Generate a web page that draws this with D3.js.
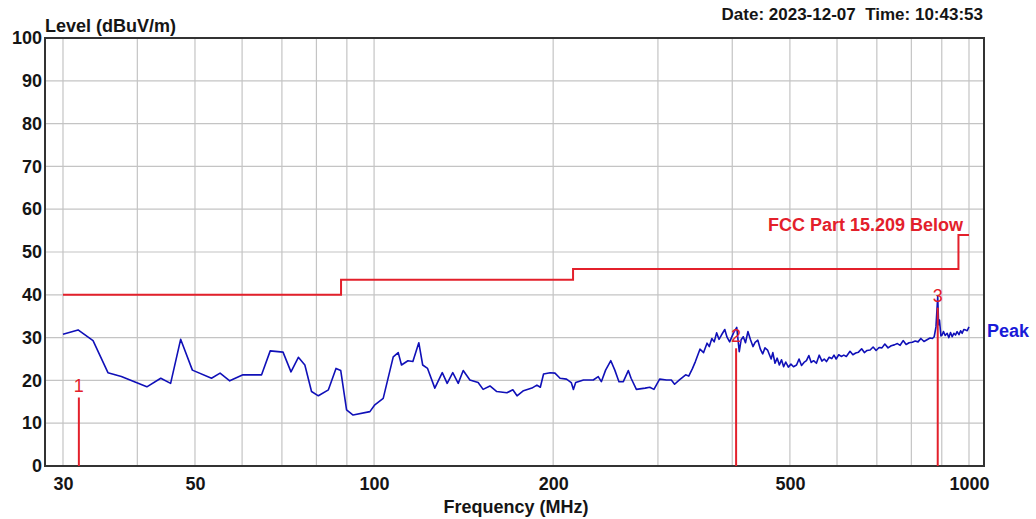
<!DOCTYPE html>
<html>
<head>
<meta charset="utf-8">
<script src="https://cdn.jsdelivr.net/npm/d3@7"></script>
<style>
  html, body { margin: 0; padding: 0; background: #fff; }
  svg { display: block; }
  text { font-family: Arial, "Liberation Sans", sans-serif; }
</style>
</head>
<body>
<svg id="chart" width="1036" height="519"></svg>
<script>
// ---------- data ----------
const yTicks = [0, 10, 20, 30, 40, 50, 60, 70, 80, 90, 100];
const xTickLabels = [30, 50, 100, 200, 500, 1000];
const xGridValues = [30, 40, 50, 60, 70, 80, 90, 100, 200, 300, 400, 500, 600, 700, 800, 900, 1000];

const limitFreq  = [30, 88, 88, 216, 216, 960, 960, 1000];
const limitLevel = [40, 40, 43.5, 43.5, 46, 46, 54, 54];
const limitName = "FCC Part 15.209 Below";

const markerFreq  = [31.9, 406, 886];
const markerLevel = [16, 27.5, 37];
const markerLabel = ["1", "2", "3"];

const peakFreq = [
  30.0, 31.8, 33.7, 35.7, 37.6, 41.5, 43.8, 45.5, 47.3, 49.5,
  53.3, 55.1, 57.2, 60.2, 64.7, 66.9, 70.3, 72.5, 74.6, 76.5,
  78.5, 80.6, 83.8, 86.3, 87.9, 89.9, 92.2, 98.4, 100.3, 103.6,
  107.7, 109.8, 111.2, 114.0, 116.2, 118.9, 120.7, 123.0, 126.5, 130.2,
  132.7, 135.6, 138.5, 141.2, 144.9, 149.6, 152.5, 156.6, 160.8, 167.2,
  171.1, 173.9, 178.3, 184.2, 187.8, 190.3, 192.7, 197.7, 201.4, 205.4,
  210.6, 214.5, 216.3, 218.2, 224.9, 233.6, 238.1, 241.0, 245.0, 250.0,
  253.9, 258.0, 262.4, 267.5, 270.4, 276.0, 285.5, 290.7, 295.4, 302.0,
  310.2, 316.0, 320.0, 326.0, 334.0, 338.0, 343.0, 346.8, 353.0, 358.0,
  362.8, 366.0, 369.6, 373.0, 376.5, 380.0, 383.6, 388.6, 392.0, 396.0,
  402.0, 407.0, 411.0, 414.0, 417.4, 421.0, 425.0, 429.0, 433.4, 437.0,
  441.6, 446.0, 450.0, 454.0, 458.6, 461.0, 465, 468, 472, 476, 480, 484,
  488, 492, 497, 502, 507, 513, 518, 523, 528, 533,
  538, 543, 548, 554, 560, 566, 571, 576, 582, 588,
  593, 598, 604, 610, 616, 622, 631, 638, 645, 652,
  660, 667, 674, 682, 690, 698, 706, 714, 722, 731,
  740, 749, 758, 766, 775, 784, 793, 803, 812, 821,
  830, 840, 850, 860, 868, 874, 880, 886, 889, 892,
  897, 901, 906, 912, 919, 925, 931, 937, 943, 949,
  955, 962, 968, 974, 980, 986, 993, 1000
];
const peakLevel = [
  30.8, 31.8, 29.3, 21.8, 20.9, 18.5, 20.5, 19.3, 29.6, 22.4,
  20.5, 21.7, 19.9, 21.3, 21.3, 26.9, 26.6, 22.0, 25.4, 23.6,
  17.4, 16.4, 17.8, 22.8, 22.3, 13.1, 11.9, 12.7, 14.3, 15.8,
  25.5, 26.5, 23.6, 24.6, 24.4, 28.8, 23.6, 22.8, 18.2, 21.8,
  19.3, 21.8, 19.3, 22.3, 20.1, 19.5, 17.9, 18.7, 17.4, 17.1,
  17.8, 16.4, 17.6, 18.2, 18.9, 18.4, 21.5, 21.8, 21.7, 20.5,
  20.3, 19.5, 17.9, 19.5, 20.1, 20.1, 20.9, 19.7, 22.4, 24.6,
  22.4, 19.7, 19.7, 22.3, 20.5, 17.9, 18.2, 18.4, 17.9, 20.3,
  20.1, 20.1, 19.1, 20.1, 21.3, 21.0, 22.8, 24.4, 27.3, 26.5,
  28.7, 27.9, 29.8, 29.0, 31.1, 29.6, 30.6, 31.9, 30.1, 29.0,
  31.1, 32.4, 26.7, 29.5, 30.2, 28.8, 31.4, 29.6, 27.9, 28.9,
  29.4, 27.3, 26.2, 27.6, 27.1, 26.3, 25.0, 26.5, 24.0, 25.2, 23.6, 24.8,
  23.2, 24.3, 23.1, 23.8, 23.2, 23.6, 25.0, 23.5, 24.2, 24.6,
  25.8, 24.2, 24.6, 24.0, 25.9, 24.5, 25.0, 24.4, 25.4, 25.1,
  25.9, 25.0, 26.0, 25.6, 25.9, 25.6, 26.8, 26.0, 26.4, 26.6,
  27.4, 26.5, 27.0, 27.1, 27.8, 27.0, 27.7, 27.6, 28.5, 27.6,
  28.1, 28.3, 28.6, 28.2, 29.3, 28.4, 28.8, 28.9, 29.2, 29.0,
  29.8, 29.1, 29.5, 29.9, 29.8, 30.2, 32.5, 39.6, 33.0, 34.1,
  30.4, 30.6, 31.4, 30.5, 31.0, 30.0, 31.2, 30.2, 31.0, 30.6,
  31.4, 30.7, 31.6, 31.0, 31.9, 31.8, 31.6, 32.5
];
const traceName = "Peak";

// ---------- layout ----------
const svg = d3.select("#chart");
const frame = { left: 45, top: 38, right: 984, bottom: 466 };

const x = d3.scaleLog().domain([30, 1000]).range([63, 969]);
const y = d3.scaleLinear().domain([0, 100]).range([frame.bottom, frame.top]);

const RED = "#e3202b";
const BLUE = "#1010b8";
const TXT = "#151515";

// grid
svg.append("g").selectAll("line").data(yTicks.filter(d => d > 0 && d < 100)).join("line")
  .attr("x1", frame.left).attr("x2", frame.right)
  .attr("y1", d => y(d)).attr("y2", d => y(d))
  .attr("stroke", "#c4c4c4").attr("stroke-width", 1.2);
svg.append("g").selectAll("line").data(xGridValues).join("line")
  .attr("x1", d => x(d)).attr("x2", d => x(d))
  .attr("y1", frame.top).attr("y2", frame.bottom)
  .attr("stroke", "#c4c4c4").attr("stroke-width", 1.2);

// frame
svg.append("rect")
  .attr("x", frame.left).attr("y", frame.top)
  .attr("width", frame.right - frame.left).attr("height", frame.bottom - frame.top)
  .attr("fill", "none").attr("stroke", "#333").attr("stroke-width", 2);

// axes labels via d3 axes
const yAxis = svg.append("g").attr("transform", `translate(${frame.left},0)`)
  .call(d3.axisLeft(y).tickValues(yTicks).tickSize(0).tickPadding(3));
yAxis.select(".domain").remove();
yAxis.selectAll("text").attr("font-size", 18).attr("font-weight", "bold").attr("fill", TXT)
  .attr("font-family", "Arial, 'Liberation Sans', sans-serif");

const xAxis = svg.append("g").attr("transform", `translate(0,${frame.bottom})`)
  .call(d3.axisBottom(x).tickValues(xTickLabels).tickFormat(d3.format("d")).tickSize(0).tickPadding(11));
xAxis.select(".domain").remove();
xAxis.selectAll("text").attr("font-size", 18).attr("font-weight", "bold").attr("fill", TXT)
  .attr("font-family", "Arial, 'Liberation Sans', sans-serif");

// titles
svg.append("text").attr("x", 45).attr("y", 32).text("Level (dBuV/m)")
  .attr("font-size", 18).attr("font-weight", "bold").attr("fill", TXT);
svg.append("text").attr("x", 983).attr("y", 20).attr("text-anchor", "end")
  .text("Date: 2023-12-07  Time: 10:43:53").attr("xml:space", "preserve")
  .style("white-space", "pre")
  .attr("font-size", 17).attr("font-weight", "bold").attr("fill", TXT);
svg.append("text").attr("x", 516).attr("y", 513).attr("text-anchor", "middle")
  .text("Frequency (MHz)").attr("font-size", 18).attr("font-weight", "bold").attr("fill", TXT);

// limit line
const limitData = limitFreq.map((f, i) => [f, limitLevel[i]]);
svg.append("path").datum(limitData)
  .attr("d", d3.line().x(d => x(d[0])).y(d => y(d[1])))
  .attr("fill", "none").attr("stroke", RED).attr("stroke-width", 2);
svg.append("text").attr("x", 963).attr("y", 231).attr("text-anchor", "end")
  .text(limitName).attr("font-size", 18).attr("font-weight", "bold").attr("fill", RED);

// trace
const peakData = peakFreq.map((f, i) => [f, peakLevel[i]]);
svg.append("path").datum(peakData)
  .attr("d", d3.line().x(d => x(d[0])).y(d => y(d[1])))
  .attr("fill", "none").attr("stroke", BLUE).attr("stroke-width", 1.6)
  .attr("stroke-linejoin", "round");
svg.append("text").attr("x", 987).attr("y", 337).text(traceName)
  .attr("font-size", 18).attr("font-weight", "bold").attr("fill", "#1a1ad8");

// markers
const mk = svg.append("g");
markerFreq.forEach((f, i) => {
  mk.append("line")
    .attr("x1", x(f)).attr("x2", x(f))
    .attr("y1", frame.bottom).attr("y2", y(markerLevel[i]))
    .attr("stroke", RED).attr("stroke-width", 2);
  mk.append("text")
    .attr("x", x(f)).attr("y", y(markerLevel[i]) - 6)
    .attr("text-anchor", "middle")
    .text(markerLabel[i]).attr("font-size", 18).attr("fill", RED);
});
</script>
</body>
</html>
